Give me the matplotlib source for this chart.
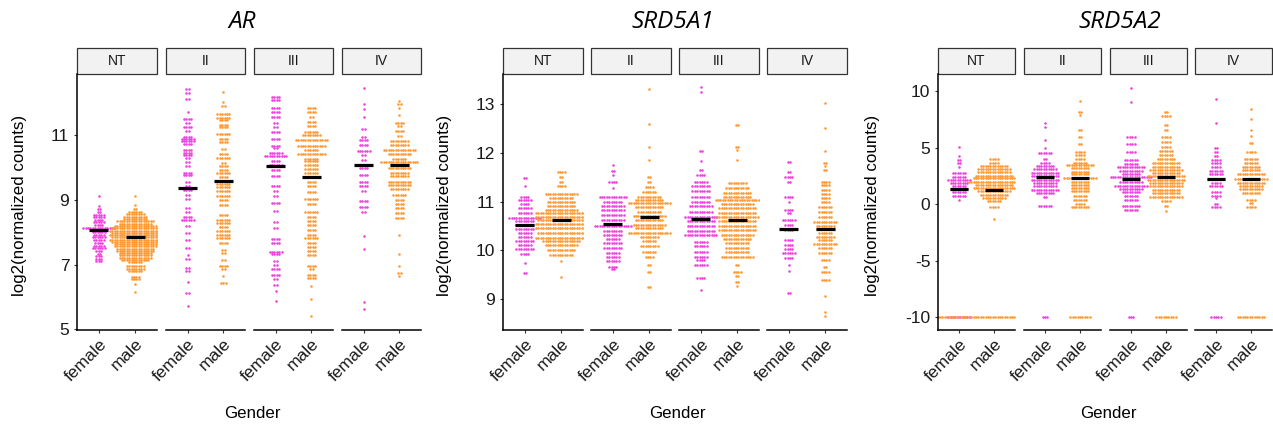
import numpy as np
import matplotlib
matplotlib.use('Agg')
import matplotlib.pyplot as plt
from matplotlib.patches import Rectangle

W, H = 1273, 428

stages = ['NT', 'II', 'III', 'IV']
genders = ['female', 'male']
colors = ['#ee44dd', '#ff9933']

# each group: rows of (log2 value, number of dots in that row)
ar_nt_female = [(9.12, 1), (8.82, 1), (8.72, 2), (8.62, 2), (8.54, 5), (8.46, 5), (8.38, 4), (8.30, 5),
                (8.22, 4), (8.14, 14), (8.06, 6), (8.00, 6), (7.92, 5), (7.84, 6), (7.76, 5), (7.68, 4),
                (7.58, 5), (7.50, 6), (7.42, 3), (7.34, 2), (7.26, 3), (7.18, 3), (7.10, 3)]
ar_nt_male = [(9.12, 1), (8.85, 1), (8.72, 2), (8.62, 6), (8.55, 8), (8.48, 10), (8.40, 10), (8.33, 16),
              (8.26, 14), (8.19, 18), (8.12, 20), (8.05, 22), (7.98, 20), (7.91, 22), (7.84, 20),
              (7.77, 22), (7.70, 20), (7.63, 18), (7.56, 18), (7.49, 16), (7.42, 16), (7.35, 14),
              (7.28, 14), (7.21, 14), (7.14, 12), (7.07, 6), (6.94, 8), (6.87, 8), (6.80, 6),
              (6.62, 4), (6.55, 4), (6.40, 1), (6.15, 1)]
ar_ii_female = [(12.41, 2), (12.28, 2), (12.12, 2), (11.72, 1), (11.48, 4), (11.36, 2), (11.23, 4),
                (11.12, 2), (10.95, 4), (10.87, 6), (10.80, 6), (10.73, 4), (10.52, 4), (10.45, 4),
                (10.38, 4), (10.28, 2), (10.16, 2), (10.03, 2), (9.84, 4), (9.77, 4), (9.56, 2),
                (9.43, 2), (9.29, 4), (9.15, 2), (9.02, 2), (8.74, 2), (8.61, 2), (8.47, 4), (8.36, 6),
                (8.18, 2), (7.97, 2), (7.77, 2), (7.51, 2), (7.28, 1), (7.17, 2), (6.90, 2), (6.80, 2),
                (6.46, 1), (6.13, 2), (5.72, 1)]
ar_ii_male = [(12.33, 1), (12.03, 1), (11.89, 2), (11.64, 6), (11.53, 6), (11.45, 4), (11.31, 4),
              (11.23, 4), (11.02, 6), (10.88, 4), (10.79, 4), (10.56, 2), (10.41, 4), (10.28, 6),
              (10.13, 2), (10.03, 4), (9.92, 4), (9.82, 6), (9.70, 4), (9.59, 6), (9.48, 6), (9.38, 6),
              (9.26, 6), (9.10, 6), (9.00, 4), (8.85, 4), (8.54, 4), (8.38, 6), (8.28, 6), (8.16, 4),
              (8.03, 6), (7.92, 6), (7.82, 6), (7.67, 4), (7.46, 2), (7.36, 2), (7.15, 2), (6.95, 4),
              (6.87, 2), (6.64, 1), (6.42, 3)]
ar_iii_female = [(12.18, 4), (12.08, 4), (11.82, 4), (11.72, 4), (11.54, 4), (11.36, 2), (11.23, 2),
                 (11.08, 4), (10.87, 4), (10.67, 4), (10.60, 2), (10.44, 6), (10.36, 10), (10.21, 4),
                 (10.08, 6), (9.92, 4), (9.72, 4), (9.43, 4), (9.26, 2), (9.10, 2), (8.90, 4),
                 (8.64, 2), (8.31, 2), (8.13, 2), (7.79, 4), (7.67, 4), (7.39, 6), (7.31, 4), (7.12, 2),
                 (7.00, 2), (6.87, 4), (6.69, 4), (6.54, 2), (6.38, 2), (6.18, 1), (5.87, 1)]
ar_iii_male = [(11.82, 4), (11.72, 4), (11.56, 2), (11.39, 4), (11.26, 4), (11.10, 6), (11.00, 8),
               (10.85, 14), (10.67, 12), (10.54, 6), (10.41, 12), (10.26, 6), (10.18, 6), (10.08, 6),
               (9.94, 6), (9.82, 6), (9.69, 6), (9.56, 4), (9.41, 4), (9.24, 4), (9.02, 6), (8.88, 4),
               (8.62, 6), (8.47, 4), (8.33, 4), (8.23, 4), (8.08, 4), (7.92, 4), (7.82, 6), (7.67, 4),
               (7.54, 4), (7.41, 4), (7.28, 4), (6.95, 4), (6.87, 2), (6.69, 4), (6.59, 4), (6.35, 1),
               (5.95, 1), (5.41, 1)]
ar_iv_female = [(12.45, 1), (11.94, 1), (11.79, 1), (11.54, 1), (11.17, 2), (10.95, 2), (10.83, 4),
                (10.69, 4), (10.51, 6), (10.38, 2), (10.23, 2), (10.06, 6), (9.97, 4), (9.77, 4),
                (9.56, 4), (9.41, 4), (9.26, 2), (8.95, 4), (8.79, 4), (8.61, 2), (7.87, 1), (7.48, 1),
                (5.84, 1), (5.62, 1)]
ar_iv_male = [(12.06, 1), (11.95, 2), (11.82, 1), (11.62, 1), (11.38, 4), (11.26, 2), (11.13, 4),
              (10.97, 2), (10.82, 8), (10.69, 8), (10.54, 14), (10.41, 10), (10.25, 6), (10.15, 16),
              (10.06, 8), (9.97, 10), (9.84, 8), (9.72, 8), (9.56, 10), (9.46, 10), (9.33, 8),
              (9.15, 6), (9.00, 4), (8.88, 4), (8.74, 4), (8.59, 4), (8.44, 4), (7.92, 1), (7.34, 1),
              (6.97, 1), (6.74, 2), (6.64, 1)]

s1_nt_female = [(11.48, 2), (11.32, 1), (11.10, 4), (11.03, 6), (10.95, 4), (10.86, 6), (10.76, 6),
                (10.66, 14), (10.59, 8), (10.51, 8), (10.44, 8), (10.35, 6), (10.27, 6), (10.19, 8),
                (10.11, 6), (10.02, 8), (9.92, 4), (9.73, 1), (9.53, 2)]
s1_nt_male = [(11.60, 4), (11.51, 2), (11.41, 2), (11.31, 4), (11.16, 14), (11.07, 10), (11.00, 12),
              (10.91, 12), (10.82, 14), (10.76, 22), (10.69, 22), (10.62, 20), (10.54, 22), (10.45, 22),
              (10.35, 20), (10.26, 22), (10.18, 16), (10.10, 14), (10.01, 12), (9.90, 10), (9.77, 1),
              (9.44, 1)]
s1_ii_female = [(11.74, 1), (11.62, 2), (11.55, 1), (11.41, 4), (11.27, 1), (11.10, 12), (11.00, 8),
                (10.91, 10), (10.82, 10), (10.73, 10), (10.62, 10), (10.50, 16), (10.40, 8), (10.32, 8),
                (10.23, 6), (10.14, 8), (10.04, 8), (9.95, 6), (9.87, 6), (9.77, 6), (9.66, 4), (9.62, 2)]
s1_ii_male = [(13.31, 1), (12.60, 1), (12.13, 1), (11.86, 1), (11.51, 2), (11.41, 2), (11.29, 4),
              (11.20, 6), (11.10, 10), (11.03, 12), (10.97, 18), (10.88, 12), (10.79, 10), (10.71, 14),
              (10.61, 12), (10.52, 14), (10.45, 12), (10.35, 18), (10.27, 8), (10.18, 6), (10.08, 8),
              (9.97, 6), (9.87, 4), (9.70, 2), (9.56, 2), (9.25, 2)]
s1_iii_female = [(13.35, 1), (13.24, 1), (12.03, 2), (11.84, 1), (11.65, 2), (11.55, 4), (11.41, 6),
                 (11.31, 8), (11.21, 8), (11.10, 8), (11.00, 8), (10.90, 10), (10.79, 10), (10.69, 14),
                 (10.60, 12), (10.50, 12), (10.40, 12), (10.32, 14), (10.16, 6), (10.08, 6), (9.97, 6),
                 (9.87, 6), (9.80, 4), (9.70, 6), (9.42, 4), (9.18, 1)]
s1_iii_male = [(12.58, 2), (12.13, 2), (12.06, 1), (11.86, 1), (11.38, 8), (11.27, 10), (11.18, 12),
               (11.10, 12), (11.03, 19), (10.95, 14), (10.86, 16), (10.77, 16), (10.68, 18), (10.59, 16),
               (10.50, 16), (10.42, 16), (10.32, 14), (10.23, 12), (10.14, 10), (10.04, 10), (9.96, 10),
               (9.87, 14), (9.70, 2), (9.56, 4), (9.46, 2), (9.34, 2), (9.27, 1)]
s1_iv_female = [(11.82, 2), (11.60, 2), (11.51, 4), (11.41, 2), (11.10, 4), (11.00, 1), (10.82, 4),
                (10.76, 2), (10.62, 6), (10.52, 4), (10.42, 4), (10.21, 4), (10.11, 4), (10.02, 4),
                (9.94, 6), (9.84, 4), (9.70, 1), (9.58, 1), (9.12, 2)]
s1_iv_male = [(13.02, 1), (12.52, 1), (12.03, 1), (11.80, 2), (11.73, 1), (11.64, 2), (11.41, 4),
              (11.34, 4), (11.24, 4), (11.15, 4), (11.07, 4), (10.98, 4), (10.88, 6), (10.79, 6),
              (10.69, 6), (10.57, 10), (10.50, 8), (10.43, 8), (10.35, 6), (10.28, 8), (10.21, 6),
              (10.12, 10), (10.04, 6), (9.94, 6), (9.80, 4), (9.66, 2), (9.56, 4), (9.39, 4), (9.05, 1),
              (8.74, 1), (8.64, 1)]

s2_nt_female = [(5.09, 1), (4.29, 1), (3.91, 2), (3.62, 2), (3.32, 1), (2.74, 6), (2.44, 6), (2.15, 10),
                (1.91, 8), (1.62, 6), (1.32, 8), (1.03, 6), (0.74, 6), (0.38, 1), (-10, 10)]
s2_nt_male = [(3.97, 4), (3.68, 4), (3.41, 12), (3.12, 14), (2.82, 14), (2.53, 16), (2.29, 18),
              (2.00, 22), (1.71, 16), (1.41, 18), (1.12, 14), (0.82, 12), (0.53, 10), (0.24, 6),
              (-0.21, 4), (-1.32, 1), (-10, 48)]
s2_ii_female = [(7.15, 1), (6.85, 1), (5.68, 1), (5.00, 1), (4.50, 6), (4.00, 2), (3.68, 4), (3.38, 8),
                (3.09, 10), (2.79, 12), (2.50, 12), (2.15, 12), (1.85, 10), (1.56, 10), (1.26, 12),
                (0.97, 8), (0.62, 2), (-0.12, 6), (-10, 3)]
s2_ii_male = [(9.12, 1), (8.18, 2), (7.88, 1), (6.56, 2), (5.97, 2), (5.32, 2), (4.65, 4), (4.35, 4),
              (3.97, 4), (3.68, 6), (3.47, 12), (3.18, 8), (2.88, 8), (2.62, 8), (2.35, 14), (2.00, 8),
              (1.71, 8), (1.41, 8), (1.12, 8), (0.74, 6), (0.38, 6), (0.03, 4), (-0.26, 8), (-10, 9)]
s2_iii_female = [(10.29, 1), (9.06, 1), (5.97, 4), (5.32, 4), (4.65, 4), (3.91, 6), (3.53, 6),
                 (3.26, 12), (2.97, 10), (2.68, 8), (2.44, 18), (2.00, 10), (1.62, 14), (1.32, 10),
                 (1.03, 8), (0.70, 6), (0.38, 6), (-0.15, 8), (-0.50, 6), (-10, 3)]
s2_iii_male = [(8.18, 2), (7.79, 4), (7.00, 2), (6.56, 2), (5.97, 4), (5.53, 4), (5.09, 4), (4.74, 6),
               (4.35, 6), (3.97, 8), (3.62, 12), (3.32, 12), (3.03, 14), (2.79, 12), (2.53, 16),
               (2.15, 16), (1.85, 14), (1.56, 14), (1.26, 12), (0.97, 12), (0.62, 14), (0.24, 4),
               (-0.12, 2), (-0.59, 1), (-10, 9)]
s2_iv_female = [(9.29, 1), (7.21, 1), (4.94, 2), (4.65, 2), (4.26, 2), (3.91, 4), (3.62, 4), (3.32, 4),
                (2.97, 6), (2.65, 6), (2.21, 8), (1.91, 4), (1.56, 6), (1.03, 4), (0.74, 4), (0.53, 1),
                (0.03, 2), (-0.21, 4), (-10, 5)]
s2_iv_male = [(8.41, 1), (7.50, 1), (6.56, 1), (6.03, 1), (5.38, 2), (4.65, 4), (3.97, 6), (3.62, 6),
              (3.32, 8), (3.03, 8), (2.68, 12), (2.26, 14), (1.91, 12), (1.62, 10), (1.32, 10),
              (0.97, 8), (0.38, 4), (0.09, 2), (-0.21, 4), (-10, 12)]

# medians per stage (NT, II, III, IV)
ar_median_female = [8.08, 9.37, 10.03, 10.06]
ar_median_male = [7.85, 9.59, 9.69, 10.08]
s1_median_female = [10.51, 10.54, 10.64, 10.44]
s1_median_male = [10.61, 10.69, 10.62, 10.43]
s2_median_female = [1.32, 2.44, 2.24, 2.21]
s2_median_male = [1.21, 2.35, 2.44, 2.26]

plt.rcParams['font.family'] = ['Liberation Sans', 'DejaVu Sans']

fig = plt.figure(figsize=(W / 100, H / 100), dpi=100)

TOP, BOTTOM = 74, 330
STRIP = 26


def draw_gene(name, facets, groups, med_f, med_m, ylim, yticks, title_x, ylab_x, gender_x):
    for k, (x0, x1) in enumerate(facets):
        ax = fig.add_axes([x0 / W, 1 - BOTTOM / H, (x1 - x0) / W, (BOTTOM - TOP) / H])
        ax.set_xlim(0.4, 2.6)
        ax.set_ylim(*ylim)
        dx = 2.4 / ((x1 - x0) / 2.2)
        for j, rows in enumerate(groups[k]):
            xs, ys = [], []
            for y, n in rows:
                offs = (np.arange(n) - (n - 1) / 2) * dx
                xs.extend(j + 1 + offs)
                ys.extend([y] * n)
            ax.scatter(xs, ys, s=3.4, color=colors[j], linewidths=0, zorder=2 + j * 0.1)
        for j, m in enumerate([med_f[k], med_m[k]]):
            ax.plot([j + 1 - 0.26, j + 1 + 0.26], [m, m], color='black', lw=2.3,
                    solid_capstyle='butt', zorder=3)
        for s in ['top', 'right']:
            ax.spines[s].set_visible(False)
        ax.spines['bottom'].set_linewidth(1.1)
        ax.spines['left'].set_linewidth(1.1)
        ax.set_xticks([1, 2])
        ax.set_xticklabels(genders, rotation=45, ha='right', va='top',
                           rotation_mode='anchor', fontsize=12.5, color='#1a1a1a')
        ax.tick_params(axis='x', length=2.5, width=0.8, color='#333333', pad=2)
        if k == 0:
            ax.set_yticks(yticks)
            ax.set_yticklabels([str(t) for t in yticks], fontsize=12.5, color='#1a1a1a')
            ax.tick_params(axis='y', length=2.5, width=0.8, color='#333333', pad=3)
        else:
            ax.spines['left'].set_visible(False)
            ax.set_yticks([])
        h = STRIP / (BOTTOM - TOP)
        ax.add_patch(Rectangle((0, 1), 1, h, transform=ax.transAxes, clip_on=False,
                               facecolor='#f2f2f2', edgecolor='#333333', lw=0.9))
        ax.text(0.5, 1 + h / 2, stages[k], transform=ax.transAxes, ha='center',
                va='center', fontsize=10, color='#1a1a1a')
    fig.text(title_x / W, 1 - 22 / H, name, ha='center', va='center', fontsize=17.5,
             style='italic', family=['Open Sans', 'DejaVu Sans'])
    fig.text(ylab_x / W, 1 - 205 / H, 'log2(normalized counts)', rotation=90,
             ha='center', va='center', fontsize=12.2)
    fig.text(gender_x / W, 1 - 414 / H, 'Gender', ha='center', va='center', fontsize=12.2)


draw_gene('AR', [(77, 157), (166, 245), (254, 333), (342, 421)],
          [(ar_nt_female, ar_nt_male), (ar_ii_female, ar_ii_male),
           (ar_iii_female, ar_iii_male), (ar_iv_female, ar_iv_male)],
          ar_median_female, ar_median_male, (4.98, 12.88), [5, 7, 9, 11], 242, 20, 252)
draw_gene('SRD5A1', [(503, 583), (591, 671), (679, 759), (767, 847)],
          [(s1_nt_female, s1_nt_male), (s1_ii_female, s1_ii_male),
           (s1_iii_female, s1_iii_male), (s1_iv_female, s1_iv_male)],
          s1_median_female, s1_median_male, (8.36, 13.62), [9, 10, 11, 12, 13], 673, 445, 677)
draw_gene('SRD5A2', [(938, 1015), (1024, 1101), (1110, 1187), (1195, 1272)],
          [(s2_nt_female, s2_nt_male), (s2_ii_female, s2_ii_male),
           (s2_iii_female, s2_iii_male), (s2_iv_female, s2_iv_male)],
          s2_median_female, s2_median_male, (-11.12, 11.5), [-10, -5, 0, 5, 10], 1120, 872, 1108)

fig.savefig('out.png', dpi=100)
